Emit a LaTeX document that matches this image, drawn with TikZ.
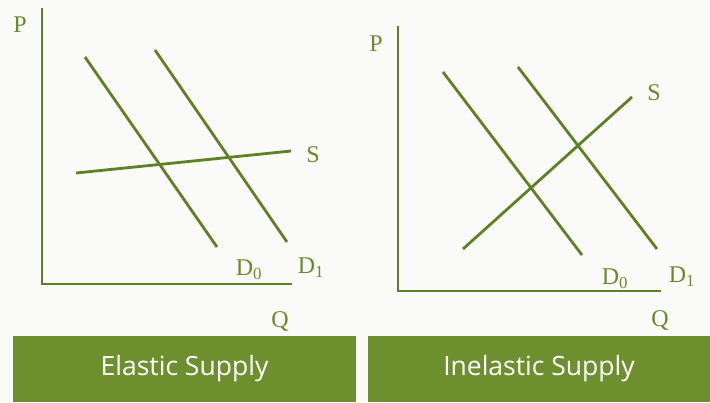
\documentclass[tikz,border=0pt]{standalone}
\usepackage{fontspec}
\setmainfont{Liberation Serif}
\newfontfamily\barfont{Open Sans}
\usepackage{xcolor}
\usetikzlibrary{positioning}
\definecolor{lineGreen}{HTML}{5F8123}
\definecolor{labelGreen}{HTML}{6A8A2C}
\definecolor{barGreen}{HTML}{6E8F2E}
\definecolor{bgGray}{HTML}{FAFAF8}

\begin{document}
\begin{tikzpicture}[x=1pt, y=-1pt, line width=2.8pt,
  lbl/.style={text=labelGreen, font=\fontsize{24}{24}\selectfont, inner sep=0pt},
  curve/.style={draw=lineGreen},
  bar/.style={fill=barGreen, text=white, minimum height=66pt, inner sep=0pt,
    font=\barfont\fontsize{26.5}{26.5}\selectfont}]
\useasboundingbox (0,0) rectangle (710,402);
\fill[bgGray] (0,0) rectangle (710,402);

% elastic supply
\coordinate (yA) at (42,8);
\coordinate (oA) at (42,284);
\coordinate (xA) at (292,284);
\draw[curve] (yA) -- (oA) -- (xA);
\coordinate (d0A) at (85,57);   \coordinate (d0Ae) at (217,247);
\coordinate (d1A) at (155,50);  \coordinate (d1Ae) at (287,242);
\coordinate (sA) at (76,173);   \coordinate (sAe) at (291,151);
\draw[curve] (d0A) -- (d0Ae);
\draw[curve] (d1A) -- (d1Ae);
\draw[curve] (sA) -- (sAe);
\node[lbl] (PA) at (20,25) {P};
\node[lbl] (QA) at (280,321) {Q};
\node[lbl] (SA) at (313,155) {S};
\node[lbl] (D0A) at (249,270) {D\textsubscript{0}};
\node[lbl] (D1A) at (311,268) {D\textsubscript{1}};
\node[bar, minimum width=343pt] (barA) at (184.5,369) {Elastic Supply};

% inelastic supply
\coordinate (yB) at (398,26);
\coordinate (oB) at (398,291);
\coordinate (xB) at (661,291);
\draw[curve] (yB) -- (oB) -- (xB);
\coordinate (d0B) at (443,72);  \coordinate (d0Be) at (582,255);
\coordinate (d1B) at (518,67);  \coordinate (d1Be) at (657,249);
\coordinate (sB) at (463,249);  \coordinate (sBe) at (632,97);
\draw[curve] (d0B) -- (d0Be);
\draw[curve] (d1B) -- (d1Be);
\draw[curve] (sB) -- (sBe);
\node[lbl] (PB) at (376,44) {P};
\node[lbl] (QB) at (660,320) {Q};
\node[lbl] (SB) at (654,93) {S};
\node[lbl] (D0B) at (615,279) {D\textsubscript{0}};
\node[lbl] (D1B) at (682,277) {D\textsubscript{1}};
\node[bar, minimum width=342pt] (barB) at (539,369) {Inelastic Supply};
\end{tikzpicture}
\end{document}
